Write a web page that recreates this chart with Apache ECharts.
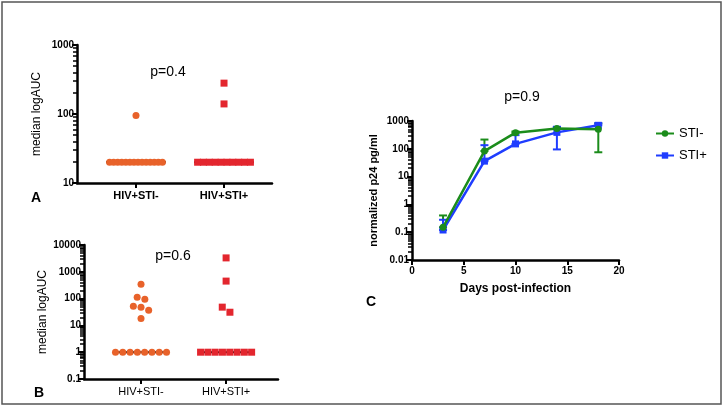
<!DOCTYPE html>
<html>
    <head>
        <meta charset="UTF-8">
        <title></title>
        <script src="https://cdn.jsdelivr.net/npm/echarts@6/dist/echarts.min.js"></script>
        <style>
            body { margin: 0; background: #fff; }
        </style>
    </head>
    <body>
        <div id="main" style="width: 724px; height: 409px;"></div>
        <script>
            // 组别
            var groups = ['HIV+STI-', 'HIV+STI+'];
            // A: median logAUC
            var aStiNeg = [95, 20, 20, 20, 20, 20, 20, 20, 20, 20, 20, 20, 20, 20, 20];
            var aStiPos = [280, 140, 20, 20, 20, 20, 20, 20, 20, 20, 20, 20];
            // B: median logAUC
            var bStiNeg = [345, 112, 95, 52, 48, 37, 18, 1, 1, 1, 1, 1, 1, 1, 1];
            var bStiPos = [3300, 450, 48, 31, 1, 1, 1, 1, 1, 1, 1, 1];
            // C: p24 随时间
            var days = [3, 7, 10, 14, 18];
            var cStiNeg = [0.15, 83, 380, 540, 500];
            var cStiNegLow = [0.15, 83, 380, 540, 75];
            var cStiNegHigh = [0.4, 215, 420, 600, 820];
            var cStiPos = [0.12, 36, 150, 390, 700];
            var cStiPosLow = [0.12, 36, 150, 95, 700];
            var cStiPosHigh = [0.28, 135, 310, 620, 830];

            var FONT = "'Liberation Sans', Arial, sans-serif";
            var ORANGE = '#e8622a', RED = '#e3262e', GREEN = '#1b8c1b', BLUE = '#1f3dff';
            var grids = [
                { left: 77, top: 45, width: 195, height: 138 },
                { left: 84, top: 245, width: 194, height: 134 },
                { left: 412, top: 121, width: 207, height: 139 }
            ];

            // 散点横向排布（值相近的点排成一行）
            function swarm(values, center, step, maxSpan, tol) {
                var order = values.map(function (v, i) { return i; })
                    .sort(function (a, b) { return values[b] - values[a]; });
                var rows = [];
                order.forEach(function (i) {
                    var last = rows[rows.length - 1];
                    if (last && Math.abs(Math.log10(values[i]) - Math.log10(values[last[last.length - 1]])) <= tol) {
                        last.push(i);
                    } else {
                        rows.push([i]);
                    }
                });
                var out = [];
                rows.forEach(function (row) {
                    var n = row.length;
                    var sp = n > 1 ? Math.min(step, maxSpan / (n - 1)) : 0;
                    row.forEach(function (i, k) {
                        out.push([center + (k - (n - 1) / 2) * sp, values[i]]);
                    });
                });
                return out;
            }
            function median(arr) {
                var s = arr.slice().sort(function (a, b) { return a - b; });
                var m = Math.floor(s.length / 2);
                return s.length % 2 ? s[m] : (s[m - 1] + s[m]) / 2;
            }
            function minorTicks(min, max) {
                var res = [];
                for (var d = Math.round(Math.log10(min)); d < Math.round(Math.log10(max)); d++) {
                    for (var k = 2; k <= 9; k++) res.push(+(k * Math.pow(10, d)).toPrecision(6));
                }
                return res;
            }

            function catXAxis(gridIndex, min, max, bold) {
                return {
                    type: 'value', gridIndex: gridIndex, min: min, max: max,
                    splitLine: { show: false },
                    axisLine: { lineStyle: { color: '#000', width: 2.5 } },
                    axisTick: { customValues: [1, 2], length: 5, lineStyle: { color: '#000', width: 2 } },
                    axisLabel: {
                        customValues: [1, 2], color: '#000', fontFamily: FONT, fontSize: 11,
                        fontWeight: bold ? 'bold' : 'normal', margin: 7,
                        formatter: function (v) { return groups[Math.round(v) - 1]; }
                    }
                };
            }
            function logYAxis(gridIndex, min, max, name, nameGap, nameBold) {
                return {
                    type: 'log', logBase: 10, gridIndex: gridIndex, min: min, max: max, position: 'left',
                    name: name, nameLocation: 'middle', nameGap: nameGap,
                    nameTextStyle: { color: '#000', fontFamily: FONT, fontSize: nameBold ? 11 : 12, fontWeight: nameBold ? 'bold' : 'normal' },
                    splitLine: { show: false },
                    axisLine: { show: true, lineStyle: { color: '#000', width: 2.5 } },
                    axisTick: { length: 5, lineStyle: { color: '#000', width: 2 } },
                    axisLabel: {
                        color: '#000', fontFamily: FONT, fontSize: 10, fontWeight: 'bold', margin: 3,
                        formatter: function (v) { return String(+v.toPrecision(6)); }
                    }
                };
            }
            // 次刻度：放在右侧再平移到左轴处，刻度朝左
            function minorYAxis(gridIndex, min, max) {
                return {
                    type: 'log', logBase: 10, gridIndex: gridIndex, min: min, max: max,
                    position: 'right', offset: -grids[gridIndex].width,
                    splitLine: { show: false },
                    axisLine: { show: false },
                    axisLabel: { show: false },
                    axisTick: { show: true, inside: true, customValues: minorTicks(min, max), length: 4, lineStyle: { color: '#000', width: 1.5 } }
                };
            }
            function medianLine(xi, yi, center, arr, half) {
                var m = median(arr);
                return {
                    type: 'line', xAxisIndex: xi, yAxisIndex: yi, silent: true, symbol: 'none', z: 1,
                    lineStyle: { color: '#000', width: 2 },
                    data: [[center - half, m], [center + half, m]]
                };
            }
            function errBars(color, low, high) {
                return {
                    type: 'custom', xAxisIndex: 2, yAxisIndex: 4, z: 3, silent: true,
                    data: days.map(function (d, i) { return [d, low[i], high[i]]; }),
                    renderItem: function (params, api) {
                        var p1 = api.coord([api.value(0), api.value(1)]);
                        var p2 = api.coord([api.value(0), api.value(2)]);
                        var st = { stroke: color, lineWidth: 2 };
                        return {
                            type: 'group', children: [
                                { type: 'line', shape: { x1: p1[0], y1: p1[1], x2: p2[0], y2: p2[1] }, style: st },
                                { type: 'line', shape: { x1: p1[0] - 4, y1: p1[1], x2: p1[0] + 4, y2: p1[1] }, style: st },
                                { type: 'line', shape: { x1: p2[0] - 4, y1: p2[1], x2: p2[0] + 4, y2: p2[1] }, style: st }
                            ]
                        };
                    }
                };
            }
            function text(t, x, y, font) {
                return { type: 'text', x: x, y: y, style: { text: t, font: font, fill: '#000', textAlign: 'center', textVerticalAlign: 'middle' } };
            }

            var chart = echarts.init(document.getElementById('main'));
            chart.setOption({
                animation: false,
                graphic: [
                    { type: 'rect', shape: { x: 2, y: 2, width: 719, height: 402 }, style: { fill: 'none', stroke: '#555', lineWidth: 1.5 } },
                    text('p=0.4', 168, 72, '14px ' + FONT),
                    text('p=0.6', 173, 256, '14px ' + FONT),
                    text('p=0.9', 522, 97, '14px ' + FONT),
                    text('A', 36, 198, 'bold 14px ' + FONT),
                    text('B', 39, 393, 'bold 14px ' + FONT),
                    text('C', 371, 302, 'bold 14px ' + FONT)
                ],
                grid: grids,
                xAxis: [
                    catXAxis(0, 0.33, 2.545, true),
                    catXAxis(1, 0.33, 2.61, false),
                    {
                        type: 'value', gridIndex: 2, min: 0, max: 20, interval: 5,
                        name: 'Days post-infection', nameLocation: 'middle', nameGap: 23,
                        nameTextStyle: { color: '#000', fontFamily: FONT, fontSize: 12, fontWeight: 'bold' },
                        splitLine: { show: false },
                        axisLine: { lineStyle: { color: '#000', width: 2.5 } },
                        axisTick: { length: 5, lineStyle: { color: '#000', width: 2 } },
                        axisLabel: { color: '#000', fontFamily: FONT, fontSize: 10, fontWeight: 'bold', margin: 6 }
                    }
                ],
                yAxis: [
                    logYAxis(0, 10, 1000, 'median logAUC', 34, false),
                    minorYAxis(0, 10, 1000),
                    logYAxis(1, 0.1, 10000, 'median logAUC', 35, false),
                    minorYAxis(1, 0.1, 10000),
                    logYAxis(2, 0.01, 1000, 'normalized p24 pg/ml', 33, true),
                    minorYAxis(2, 0.01, 1000)
                ],
                legend: {
                    data: ['STI-', 'STI+'], orient: 'vertical', left: 650, top: 122,
                    itemWidth: 18, itemHeight: 8, itemGap: 9,
                    textStyle: { color: '#000', fontFamily: FONT, fontSize: 13 }
                },
                series: [
                    medianLine(0, 0, 1, aStiNeg, 0.34),
                    medianLine(0, 0, 2, aStiPos, 0.34),
                    { type: 'scatter', xAxisIndex: 0, yAxisIndex: 0, symbol: 'circle', symbolSize: 7, itemStyle: { color: ORANGE, opacity: 1 },
                      data: swarm(aStiNeg, 1, 0.09, 0.6, 0.2) },
                    { type: 'scatter', xAxisIndex: 0, yAxisIndex: 0, symbol: 'rect', symbolSize: 7, itemStyle: { color: RED, opacity: 1 },
                      data: swarm(aStiPos, 2, 0.09, 0.6, 0.2) },
                    medianLine(1, 2, 1, bStiNeg, 0.32),
                    medianLine(1, 2, 2, bStiPos, 0.32),
                    { type: 'scatter', xAxisIndex: 1, yAxisIndex: 2, symbol: 'circle', symbolSize: 7, itemStyle: { color: ORANGE, opacity: 1 },
                      data: swarm(bStiNeg, 1, 0.09, 0.6, 0.2) },
                    { type: 'scatter', xAxisIndex: 1, yAxisIndex: 2, symbol: 'rect', symbolSize: 7, itemStyle: { color: RED, opacity: 1 },
                      data: swarm(bStiPos, 2, 0.09, 0.6, 0.2) },
                    errBars(GREEN, cStiNegLow, cStiNegHigh),
                    errBars(BLUE, cStiPosLow, cStiPosHigh),
                    { type: 'line', name: 'STI-', xAxisIndex: 2, yAxisIndex: 4, symbol: 'circle', symbolSize: 7, z: 5,
                      lineStyle: { color: GREEN, width: 2.5 }, itemStyle: { color: GREEN },
                      data: days.map(function (d, i) { return [d, cStiNeg[i]]; }) },
                    { type: 'line', name: 'STI+', xAxisIndex: 2, yAxisIndex: 4, symbol: 'rect', symbolSize: 7, z: 4,
                      lineStyle: { color: BLUE, width: 2.5 }, itemStyle: { color: BLUE },
                      data: days.map(function (d, i) { return [d, cStiPos[i]]; }) }
                ]
            });
        </script>
    </body>
</html>
